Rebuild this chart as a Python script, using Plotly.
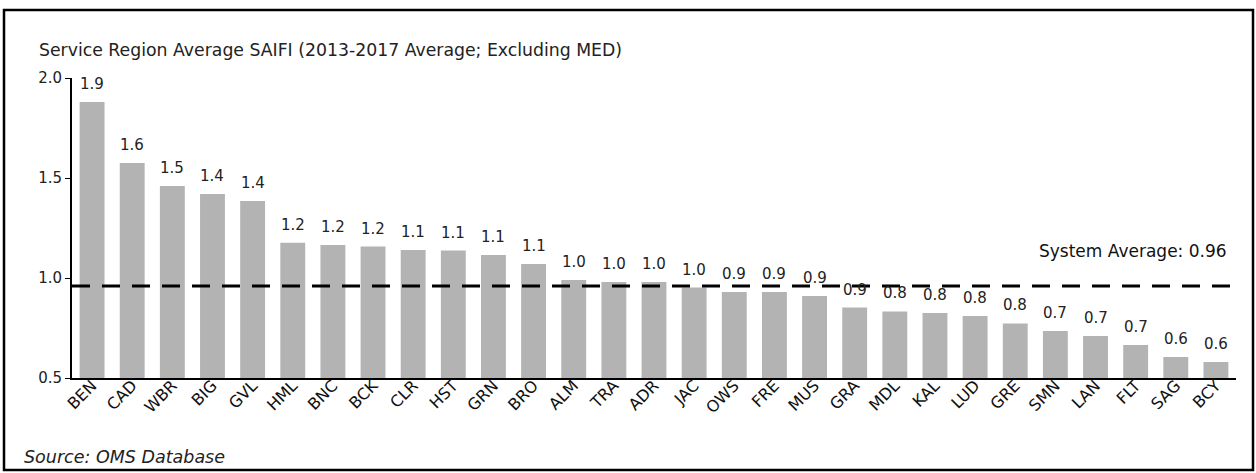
import plotly.graph_objects as go

# Service regions, ordered by five-year average SAIFI
regions = ["BEN", "CAD", "WBR", "BIG", "GVL", "HML", "BNC", "BCK", "CLR", "HST",
           "GRN", "BRO", "ALM", "TRA", "ADR", "JAC", "OWS", "FRE", "MUS", "GRA",
           "MDL", "KAL", "LUD", "GRE", "SMN", "LAN", "FLT", "SAG", "BCY"]
saifi = [1.88, 1.575, 1.46, 1.42, 1.385, 1.176, 1.165, 1.157, 1.14, 1.137,
         1.115, 1.07, 0.99, 0.98, 0.98, 0.952, 0.93, 0.93, 0.91, 0.852,
         0.833, 0.825, 0.81, 0.773, 0.735, 0.71, 0.665, 0.605, 0.58]
system_average = 0.96
y_ticks = [0.5, 1.0, 1.5, 2.0]

FONT = "DejaVu Sans"
W, H = 1256, 473
L, R, T, B = 72, 20, 78, 95
pw, ph = W - L - R, H - T - B


def px_to_paper_x(px):
    return (px - L) / pw


def px_to_paper_y(py):
    return (H - B - py) / ph


fig = go.Figure()
fig.add_trace(go.Bar(
    x=regions, y=saifi,
    marker=dict(color="#b3b3b3", line=dict(width=0)),
    hoverinfo="x+y",
))

# value labels above each bar
for r, v in zip(regions, saifi):
    fig.add_annotation(
        x=r, y=v, xref="x", yref="y", text=f"{v:.1f}", showarrow=False,
        yanchor="middle", yshift=18, font=dict(family=FONT, size=15, color="#222222"),
    )

# system average reference line
fig.add_shape(
    type="line", xref="paper", yref="y", x0=0, x1=1,
    y0=system_average, y1=system_average,
    line=dict(color="black", width=3, dash="18px,12px"),
)
fig.add_annotation(
    x=px_to_paper_x(1229), xref="paper", y=system_average, yref="y",
    text=f"System Average: {system_average:.2f}", showarrow=False,
    xanchor="right", yanchor="middle", yshift=35,
    font=dict(family=FONT, size=17, color="#111111"),
)

# chart subtitle and source note
fig.add_annotation(
    x=px_to_paper_x(37), xref="paper", y=px_to_paper_y(50), yref="paper",
    text="Service Region Average SAIFI (2013-2017 Average; Excluding MED)",
    showarrow=False, xanchor="left", yanchor="middle",
    font=dict(family=FONT, size=17.3, color="#222222"),
)
fig.add_annotation(
    x=px_to_paper_x(22), xref="paper", y=px_to_paper_y(457), yref="paper",
    text="<i>Source: OMS Database</i>",
    showarrow=False, xanchor="left", yanchor="middle",
    font=dict(family=FONT, size=17.5, color="#222222"),
)

# outer frame
fig.add_shape(
    type="rect", xref="paper", yref="paper",
    x0=px_to_paper_x(4), x1=px_to_paper_x(1253),
    y0=px_to_paper_y(470), y1=px_to_paper_y(10),
    line=dict(color="black", width=2.5), fillcolor="rgba(0,0,0,0)",
)

fig.update_layout(
    width=W, height=H,
    margin=dict(l=L, r=R, t=T, b=B, pad=0),
    paper_bgcolor="white", plot_bgcolor="white",
    bargap=0.38, showlegend=False,
    font=dict(family=FONT, size=15, color="#222222"),
)
fig.update_xaxes(
    tickangle=-45, showline=True, linecolor="black", linewidth=2,
    ticks="", showgrid=False, ticklabelstandoff=-10,
    tickfont=dict(family=FONT, size=16, color="#111111"),
)
fig.update_yaxes(
    range=[0.5, 2.0], tickvals=y_ticks, ticktext=[f"{t:.1f}" for t in y_ticks],
    showline=True, linecolor="black", linewidth=2, ticks="outside", ticklen=5,
    tickcolor="black", showgrid=False, zeroline=False,
    tickfont=dict(family=FONT, size=15, color="#222222"),
)

fig.write_html("out.html")
